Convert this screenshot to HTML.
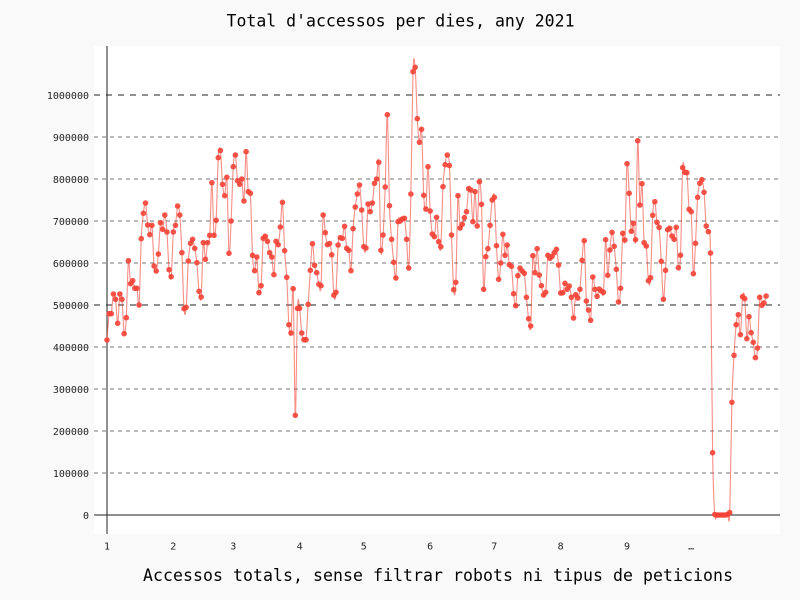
<!DOCTYPE html>
<html>
<head>
<meta charset="utf-8">
<style>
html,body{margin:0;padding:0;background:#f9f9f9;}
svg{display:block;}
text{font-family:"DejaVu Sans Mono","Liberation Mono",monospace;}
</style>
</head>
<body>
<svg id="c" width="800" height="600" viewBox="0 0 800 600" xmlns="http://www.w3.org/2000/svg">
<rect x="0" y="0" width="800" height="600" fill="#f9f9f9"/>
<rect x="94" y="46" width="686" height="488" fill="#ffffff"/>
<g id="grid">
<line x1="94" x2="780" y1="137" y2="137" stroke="rgba(0,0,0,0.54)" stroke-width="1" stroke-dasharray="4,4"/>
<line x1="94" x2="780" y1="179" y2="179" stroke="rgba(0,0,0,0.54)" stroke-width="1" stroke-dasharray="4,4"/>
<line x1="94" x2="780" y1="221" y2="221" stroke="rgba(0,0,0,0.54)" stroke-width="1" stroke-dasharray="4,4"/>
<line x1="94" x2="780" y1="263" y2="263" stroke="rgba(0,0,0,0.54)" stroke-width="1" stroke-dasharray="4,4"/>
<line x1="94" x2="780" y1="347" y2="347" stroke="rgba(0,0,0,0.54)" stroke-width="1" stroke-dasharray="4,4"/>
<line x1="94" x2="780" y1="389" y2="389" stroke="rgba(0,0,0,0.54)" stroke-width="1" stroke-dasharray="4,4"/>
<line x1="94" x2="780" y1="431" y2="431" stroke="rgba(0,0,0,0.54)" stroke-width="1" stroke-dasharray="4,4"/>
<line x1="94" x2="780" y1="473" y2="473" stroke="rgba(0,0,0,0.54)" stroke-width="1" stroke-dasharray="4,4"/>
<line x1="94" x2="780" y1="95" y2="95" stroke="rgba(0,0,0,0.87)" stroke-width="1" stroke-dasharray="6,6"/>
<line x1="94" x2="780" y1="305" y2="305" stroke="rgba(0,0,0,0.87)" stroke-width="1" stroke-dasharray="6,6"/>
<line x1="94" x2="780" y1="515" y2="515" stroke="#222" stroke-width="1"/>
<line x1="107" x2="107" y1="46" y2="534" stroke="#222" stroke-width="1"/>
</g>
<g font-size="10" fill="rgba(0,0,0,0.87)" text-anchor="end">
<text x="89" y="99">1000000</text>
<text x="89" y="141">900000</text>
<text x="89" y="183">800000</text>
<text x="89" y="225">700000</text>
<text x="89" y="267">600000</text>
<text x="89" y="309">500000</text>
<text x="89" y="351">400000</text>
<text x="89" y="393">300000</text>
<text x="89" y="435">200000</text>
<text x="89" y="477">100000</text>
<text x="89" y="519">0</text>
</g>
<g font-size="10" fill="rgba(0,0,0,0.87)" text-anchor="middle">
<text x="107" y="549.5">1</text>
<text x="173.3" y="549.5">2</text>
<text x="233.3" y="549.5">3</text>
<text x="299.6" y="549.5">4</text>
<text x="363.8" y="549.5">5</text>
<text x="430.1" y="549.5">6</text>
<text x="494.3" y="549.5">7</text>
<text x="560.7" y="549.5">8</text>
<text x="627" y="549.5">9</text>
<text x="691.2" y="549.5">…</text>
</g>
<text x="400.5" y="26.5" font-size="16.5" fill="#000" text-anchor="middle" textLength="348" lengthAdjust="spacing">Total d'accessos per dies, any 2021</text>
<text x="438" y="581" font-size="16.5" fill="#000" text-anchor="middle" textLength="590" lengthAdjust="spacing">Accessos totals, sense filtrar robots ni tipus de peticions</text>
<g id="series"></g>
</svg>
<script>
(function(){
var Y=[340,313.7,313.7,294,299.3,323.3,294,299.3,333.7,317.7,
260.7,283.7,280.7,288.3,288.3,305,238.7,213.3,203,225,
234.7,225.3,266,271,254,222.7,229.3,215,232,269.7,
276.7,232,225.3,206,215,252.7,308.7,307.3,261,243.3,
239.3,248.3,262.7,291.3,297,242.7,259.3,242.7,235.3,182.7,
235.3,220.3,157.7,150.5,184.3,195.7,177.3,253.3,221,166.7,
155,180.7,184.3,179,201,151.7,191.7,193.3,255.3,270.7,
257,292.7,285.7,238.3,236.3,241.3,252.7,257,274.7,241.3,
244.7,227,202.3,250.7,277.3,324.7,333,288.7,415.3,308.3,
308.3,333,339.7,339.7,304.3,270.3,243.7,265.3,272.7,284.3,
285.7,215,232.7,244.7,243.5,254.8,295.2,292.3,245,237.7,
238.3,226.3,248.3,250.3,270.7,228.7,207,194,185,210,
246.7,248,204,211.7,203,183.3,179,162.3,250.3,235,
187,114.7,205.7,239.3,262.3,278,221.7,221,219,218.3,
239.3,268,194,71.7,67.3,118.7,142.3,129.3,195.3,209,
166.7,211,234,236.7,217.3,241.7,246.7,186.7,164.7,155,
165.5,235,289.7,282.3,195.7,228,224.3,217.7,211.7,188.7,
190,221.7,191.7,226,181.7,204.3,289.3,256.7,248.7,225.3,
200,197.3,245.7,279.3,263,234.3,255.3,245,264.7,266.3,
293.7,305.7,275.7,268,271,273.3,297.3,318.7,326,255.7,
272.7,248.7,275,285.7,295,292.3,255.3,258.3,256.3,252.7,
249.3,265,293,292.7,283.3,289.3,286,297.3,318,294.7,
298,289.3,260.3,240.7,301,310,320.3,277,289.3,296.3,
289,291,292.3,239.7,275.3,250,232.3,246.3,269.3,302,
288.3,233.3,240,163.7,193.3,231.3,223.3,239.7,140.7,205,
183.7,242.7,246,280.7,277.7,215.3,201.7,222.3,227.3,261.3,
299.3,270.3,229.7,228.3,236,239.3,227.3,267.7,255.2,167.7,
172.3,172.7,209.3,211.7,273.7,243.3,197.3,183.3,179.7,192.3,
226,231.7,253,452.7,514.5,515,515,515,515,515,
514.5,512.5,402.3,355.3,324.7,314.7,334.7,296.7,298.7,338.7,
316.7,332.7,342.3,357.7,348,297.3,305.3,303,296];
var NS="http://www.w3.org/2000/svg";
var g=document.getElementById("series");
var P=[];
for(var i=0;i<Y.length;i++){P.push([107+2.14*i,Y[i]]);}
var d="M"+P[0][0].toFixed(2)+" "+P[0][1].toFixed(2);
for(var i=0;i<P.length-1;i++){
  var p0=P[i>0?i-1:i],p1=P[i],p2=P[i+1],p3=P[i+2<P.length?i+2:i+1];
  var c1x=p1[0]+(p2[0]-p0[0])/6,c1y=p1[1]+(p2[1]-p0[1])/6;
  var c2x=p2[0]-(p3[0]-p1[0])/6,c2y=p2[1]-(p3[1]-p1[1])/6;
  d+=" C"+c1x.toFixed(2)+" "+c1y.toFixed(2)+" "+c2x.toFixed(2)+" "+c2y.toFixed(2)+" "+p2[0].toFixed(2)+" "+p2[1].toFixed(2);
}
var path=document.createElementNS(NS,"path");
path.setAttribute("d",d);
path.setAttribute("fill","none");
path.setAttribute("stroke","#F44336");
path.setAttribute("stroke-opacity","0.6");
path.setAttribute("stroke-width","1.1");
path.setAttribute("stroke-linejoin","round");
path.setAttribute("stroke-linecap","round");
g.appendChild(path);
for(var i=0;i<P.length;i++){
  var c=document.createElementNS(NS,"circle");
  c.setAttribute("cx",P[i][0].toFixed(2));
  c.setAttribute("cy",P[i][1].toFixed(2));
  c.setAttribute("r","2.8");
  c.setAttribute("fill","#F44336");
  c.setAttribute("fill-opacity","0.9");
  g.appendChild(c);
}
})();
</script>
</body>
</html>
